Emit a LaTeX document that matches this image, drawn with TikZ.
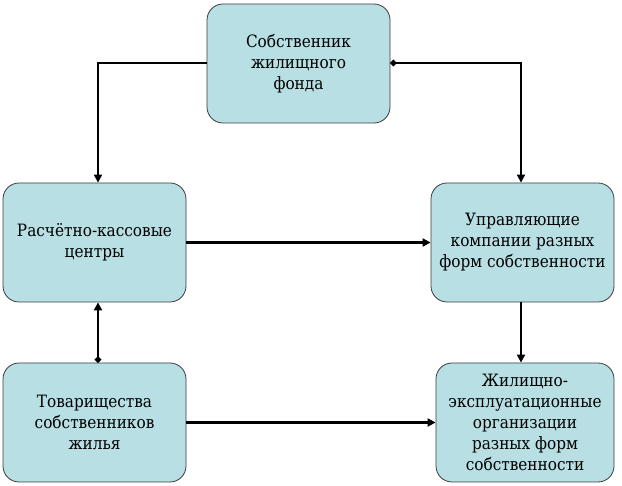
\documentclass[tikz,border=0pt]{standalone}
\usepackage{fontspec}
\newfontfamily\boxfont{DejaVu Serif Condensed}
\usetikzlibrary{arrows.meta}
\definecolor{boxfill}{RGB}{184,223,227}
\definecolor{boxline}{RGB}{60,60,60}
\tikzset{
  px/.style={x=1pt,y=-1pt},
  blk/.style={draw=boxline, line width=0.8pt, fill=boxfill, rounded corners=16pt,
    minimum width=183pt, minimum height=119pt, align=center, font=\boxfont\fontsize{17}{21}\selectfont, inner sep=2pt},
  conn/.style={line width=2.8pt, -{Triangle[length=8pt,width=8pt]}},
  dotconn/.style={line width=2.8pt, {Circle[length=6pt]}-{Triangle[length=8pt,width=8pt]}}
}
\begin{document}
\begin{tikzpicture}[px]
\useasboundingbox (0,0) rectangle (622,486);
\node[blk] (own) at (298.5,63.5) {Собственник\\жилищного\\фонда};
\node[blk] (rkc) at (94.5,242.5) {Расчётно-кассовые\\центры};
\node[blk] (uk) at (522.5,242.5) {Управляющие\\компании разных\\форм собственности};
\node[blk] (tsj) at (94.5,422.5) {Товарищества\\собственников\\жилья};
\node[blk, minimum width=178pt] (geo) at (525,422.5) {Жилищно-\\эксплуатационные\\организации\\разных форм\\собственности};
\coordinate (c1) at (98,63);
\coordinate (c2) at (521,63);
\draw[conn] (own.west |- c1) -- (c1) -- (c1 |- rkc.north);
\draw[dotconn] (own.east |- c2) -- (c2) -- (c2 |- uk.north);
\draw[conn] (rkc.east) -- (uk.west);
\draw[conn] (uk.south -| c2) -- (c2 |- geo.north);
\draw[dotconn] (tsj.north -| c1) -- (c1 |- rkc.south);
\draw[conn] (tsj.east) -- (tsj.east -| geo.west);
\end{tikzpicture}
\end{document}
